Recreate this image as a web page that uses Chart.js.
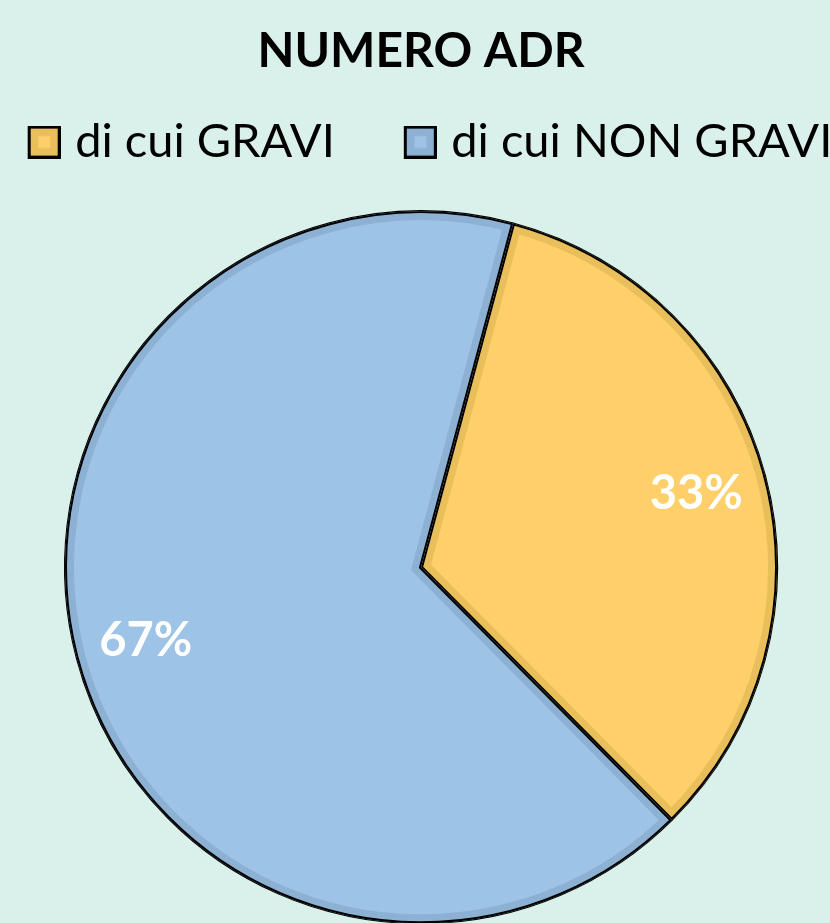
<!DOCTYPE html>
<html>
<head>
<meta charset="utf-8">
<script src="https://cdn.jsdelivr.net/npm/chart.js@4/dist/chart.umd.min.js"></script>
<style>
  html, body { margin: 0; padding: 0; background: #daf1eb; overflow: hidden; }
  #wrap { width: 830px; height: 923px; overflow: hidden; }
  /* canvas is wider than the page so the legend fits on one row */
  #c { display: block; margin-left: -79px; }
</style>
</head>
<body>
<div id="wrap"><canvas id="c" width="1000" height="959"></canvas></div>
<script>
// pie data
const labels = ['di cui GRAVI', 'di cui NON GRAVI'];
const values = [33.4, 66.6];
const fills = ['#ffcf69', '#9dc3e6'];
const bands = ['#e9bf5c', '#8db1d3'];

const FONT = 'Lato, "Open Sans", sans-serif';

// legend swatch: black frame, darker fill, small lighter square in the middle.
// the swatch sits at the right of a wider transparent canvas so it lands
// just before the text
function swatch(dark, light) {
  const w = 60, s = 33, off = 27;
  const cv = document.createElement('canvas');
  cv.width = w; cv.height = s;
  const g = cv.getContext('2d');
  g.fillStyle = '#000';
  g.fillRect(off, 0, s, s);
  g.fillStyle = dark;
  g.fillRect(off + 3, 3, s - 6, s - 6);
  g.fillStyle = light;
  g.fillRect(off + 10.5, 10.5, 12, 12);
  return cv;
}
const swatches = labels.map((_, i) => swatch(bands[i], fills[i]));

function arcPath(ctx, a) {
  ctx.beginPath();
  ctx.moveTo(a.x, a.y);
  ctx.arc(a.x, a.y, a.outerRadius, a.startAngle, a.endAngle);
  ctx.closePath();
}

// inner darker rim on every slice + black outline, like the office bevel
const bevel = {
  id: 'bevel',
  afterDatasetsDraw(chart) {
    const ctx = chart.ctx;
    const arcs = chart.getDatasetMeta(0).data;
    arcs.forEach((a, i) => {
      ctx.save();
      arcPath(ctx, a);
      ctx.clip();
      arcPath(ctx, a);
      ctx.lineJoin = 'miter';
      ctx.strokeStyle = bands[i];
      ctx.lineWidth = 18;
      ctx.stroke();
      ctx.strokeStyle = '#000';
      ctx.lineWidth = 4;
      ctx.stroke();
      ctx.restore();
    });
  },
};

// percentage labels at 80% of the radius
const pctLabels = {
  id: 'pctLabels',
  afterDatasetsDraw(chart) {
    const ctx = chart.ctx;
    const arcs = chart.getDatasetMeta(0).data;
    const total = values.reduce((s, v) => s + v, 0);
    ctx.save();
    ctx.fillStyle = '#fff';
    ctx.font = 'bold 47px ' + FONT;
    ctx.textAlign = 'center';
    ctx.textBaseline = 'middle';
    arcs.forEach((a, i) => {
      const mid = (a.startAngle + a.endAngle) / 2;
      const r = a.outerRadius * 0.8;
      const txt = Math.round((values[i] / total) * 100) + '%';
      ctx.fillText(txt, a.x + Math.cos(mid) * r, a.y + Math.sin(mid) * r);
    });
    ctx.restore();
  },
};

new Chart(document.getElementById('c'), {
  type: 'pie',
  data: {
    labels,
    datasets: [{
      data: values,
      backgroundColor: fills,
      borderColor: '#000',
      borderWidth: 2,
      radius: 356,
    }],
  },
  options: {
    responsive: false,
    animation: false,
    rotation: 15,
    layout: { padding: 0 },
    plugins: {
      tooltip: { enabled: false },
      title: {
        display: true,
        text: 'NUMERO ADR',
        color: '#000',
        font: { family: FONT, size: 48, weight: 'bold' },
        padding: { top: 23, bottom: -13 },
      },
      legend: {
        position: 'top',
        labels: {
          color: '#000',
          font: { family: FONT, size: 47 },
          usePointStyle: true,
          pointStyleWidth: 42,
          boxHeight: 47,
          padding: 51,
          generateLabels: chart => labels.map((t, i) => ({
            text: t,
            pointStyle: swatches[i],
            fillStyle: bands[i],
            strokeStyle: '#000',
            lineWidth: 0,
            hidden: false,
            index: i,
            datasetIndex: 0,
          })),
        },
      },
    },
  },
  plugins: [bevel, pctLabels],
});
</script>
</body>
</html>
